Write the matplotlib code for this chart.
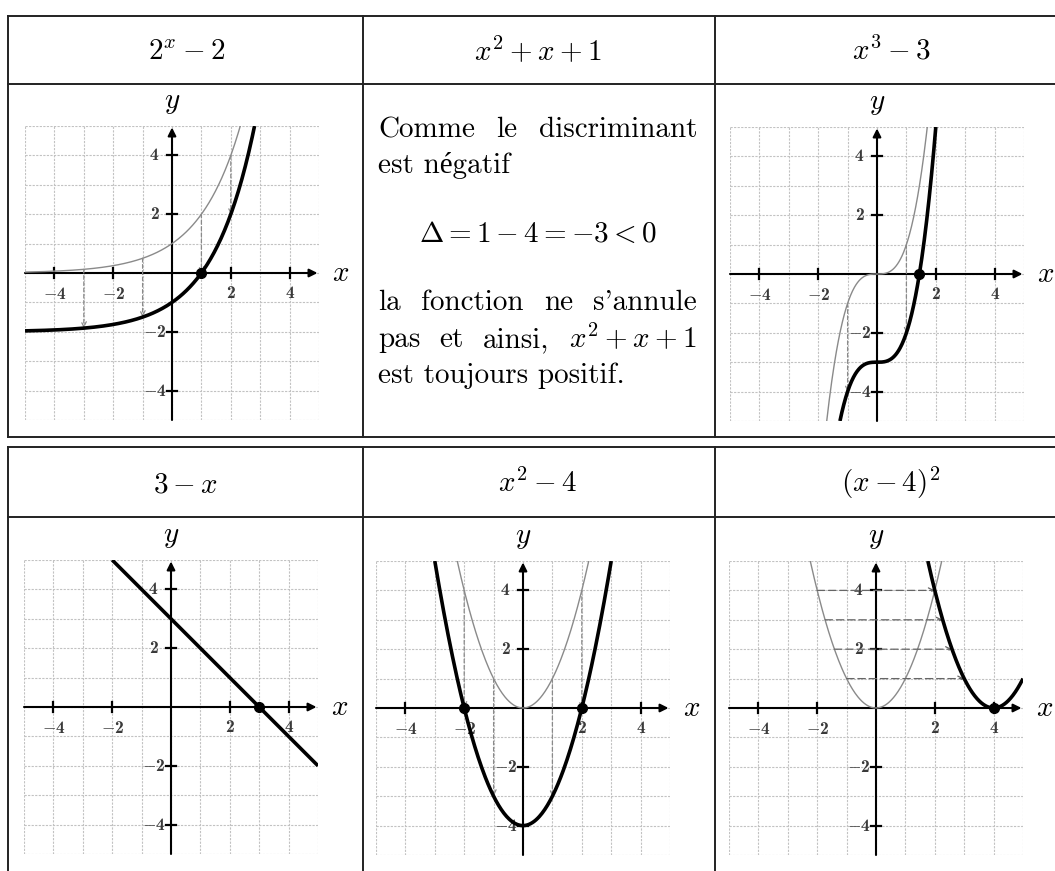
import numpy as np
import matplotlib
matplotlib.use("Agg")
import matplotlib.pyplot as plt

plt.rcParams['mathtext.fontset'] = 'cm'

# table headers (row, column) -> formula
headers = [r"$2^x - 2$", r"$x^2 + x + 1$", r"$x^3 - 3$",
           r"$3 - x$", r"$x^2 - 4$", r"$(x - 4)^2$"]

tick_vals = [-4, -2, 2, 4]
grid_vals = list(range(-5, 6))

# points moved by the translation (dashed arrows)
exp_arrow_x = [-3, -1, 1, 2]
cube_arrow_x = [-1, 1]
square_arrow_x = [-2, -1, 1, 2]
shift_arrow_y = [1, 2, 3, 4]

# zeros marked with a dot
exp_roots = [1.0]
cube_roots = [3 ** (1 / 3)]
line_roots = [3.0]
square_roots = [-2.0, 2.0]
shift_roots = [4.0]

W, H = 1055, 871
fig = plt.figure(figsize=(W / 100, H / 100), dpi=100)
bg = fig.add_axes([0, 0, 1, 1])
bg.set_xlim(0, W)
bg.set_ylim(H, 0)
bg.axis('off')

# table rules
rule = dict(color='#222222', lw=1.4)
for y in [16, 84, 437, 447, 517]:
    bg.plot([8, W], [y, y], **rule)
for x in [8, 363, 715]:
    bg.plot([x, x], [16, 437], **rule)
    bg.plot([x, x], [447, H], **rule)

# headers
head_pos = [(187, 60), (538, 60), (891, 60), (185, 492), (538, 492), (891, 492)]
for txt, (x, y) in zip(headers, head_pos):
    bg.text(x, y, txt, fontsize=21, ha='center', va='baseline')

body = dict(fontsize=21, family=['cmr10', 'Liberation Serif'], va='baseline')
renderer = fig.canvas.get_renderer()


def justify(words, x0, x1, y):
    texts = [bg.text(0, y, w, **body) for w in words]
    widths = [t.get_window_extent(renderer).width for t in texts]
    gap = (x1 - x0 - sum(widths)) / (len(words) - 1)
    x = x0
    for t, w in zip(texts, widths):
        t.set_x(x)
        x += w + gap


justify(["Comme", "le", "discriminant"], 378, 697, 137)
bg.text(378, 173, "est négatif", **body)
bg.text(538, 242, r"$\Delta = 1 - 4 = -3 < 0$", fontsize=21, ha='center', va='baseline')
justify(["la", "fonction", "ne", "s'annule"], 378, 697, 310)
justify(["pas", "et", "ainsi,", r"$x^2 + x + 1$"], 378, 696, 347)
bg.text(378, 383, "est toujours positif.", **body)

U = 29.4
tick_style = dict(fontsize=12.5, family='cmb10', color='#3a3a3a', ha='center', va='center', zorder=4)


def label(v):
    return f"$-${abs(v)}" if v < 0 else str(v)


def panel(ox, oy):
    ax = fig.add_axes([(ox - 5 * U) / W, 1 - (oy + 5 * U) / H, 10 * U / W, 10 * U / H])
    ax.set_xlim(-5, 5)
    ax.set_ylim(-5, 5)
    ax.axis('off')
    for v in grid_vals:
        ax.plot([v, v], [-5, 5], color='#c2c2c2', lw=0.8, ls=(0, (2, 1.2)), zorder=1)
        ax.plot([-5, 5], [v, v], color='#c2c2c2', lw=0.8, ls=(0, (2, 1.2)), zorder=1)
    arrow = dict(arrowstyle='-|>', color='black', lw=1.5, mutation_scale=12,
                 shrinkA=0, shrinkB=0)
    ax.annotate('', xy=(4.95, 0), xytext=(-5, 0), arrowprops=arrow, zorder=3)
    ax.annotate('', xy=(0, 4.95), xytext=(0, -5), arrowprops=arrow, zorder=3)
    for t in tick_vals:
        ax.plot([t, t], [-0.16, 0.16], color='black', lw=1.6, zorder=3)
        ax.plot([-0.16, 0.16], [t, t], color='black', lw=1.6, zorder=3)
        ax.text(t, -0.7, label(t), **tick_style)
        ax.text(-0.6, t, label(t), **tick_style)
    ax.text(5.72, 0, r"$x$", fontsize=21, ha='center', va='center', clip_on=False)
    ax.text(0, 5.8, r"$y$", fontsize=21, ha='center', va='center', clip_on=False)
    return ax


def curve(ax, x, y, bold):
    if bold:
        ax.plot(x, y, color='black', lw=2.6, zorder=5, solid_capstyle='butt')
    else:
        ax.plot(x, y, color='#8a8a8a', lw=1.0, zorder=4)


def shift(ax, start, end, dash=(0, (3, 2)), color='#8a8a8a'):
    ax.annotate('', xy=end, xytext=start, zorder=4,
                arrowprops=dict(arrowstyle='->', color=color, lw=0.9, ls=dash,
                                shrinkA=0, shrinkB=0, mutation_scale=9))


def roots(ax, xs):
    ax.plot(xs, [0] * len(xs), 'o', color='black', ms=7, zorder=6)


# 2^x - 2
ax = panel(172, 273)
x = np.linspace(-5, np.log2(5), 200)
curve(ax, x, 2 ** x, False)
x = np.linspace(-5, np.log2(7), 200)
curve(ax, x, 2 ** x - 2, True)
for a in exp_arrow_x:
    shift(ax, (a, 2.0 ** a), (a, 2.0 ** a - 2))
roots(ax, exp_roots)

# x^3 - 3
ax = panel(877, 274)
x = np.linspace(-5 ** (1 / 3), 5 ** (1 / 3), 200)
curve(ax, x, x ** 3, False)
x = np.linspace(-np.cbrt(2), 2, 200)
curve(ax, x, x ** 3 - 3, True)
for a in cube_arrow_x:
    shift(ax, (a, a ** 3), (a, a ** 3 - 3))
roots(ax, cube_roots)

# 3 - x
ax = panel(171, 707)
x = np.array([-2, 5])
curve(ax, x, 3 - x, True)
roots(ax, line_roots)

# x^2 - 4
ax = panel(523, 708)
x = np.linspace(-np.sqrt(5), np.sqrt(5), 200)
curve(ax, x, x ** 2, False)
x = np.linspace(-3, 3, 200)
curve(ax, x, x ** 2 - 4, True)
for a in square_arrow_x:
    shift(ax, (a, a ** 2), (a, a ** 2 - 4))
roots(ax, square_roots)

# (x - 4)^2
ax = panel(876, 708)
x = np.linspace(-np.sqrt(5), np.sqrt(5), 200)
curve(ax, x, x ** 2, False)
x = np.linspace(4 - np.sqrt(5), 5, 200)
curve(ax, x, (x - 4) ** 2, True)
for b in shift_arrow_y:
    shift(ax, (-np.sqrt(b), b), (4 - np.sqrt(b), b), dash=(0, (6, 3)), color='#666666')
roots(ax, shift_roots)

fig.savefig("out.png", dpi=100, facecolor='white')
